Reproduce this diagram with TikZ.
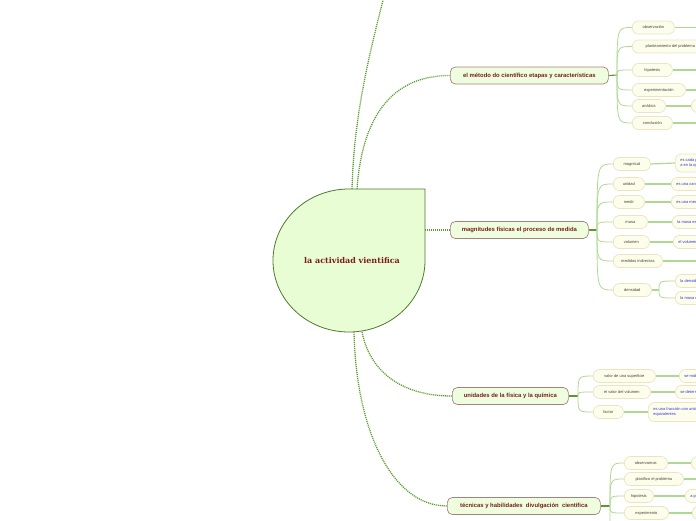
\documentclass[tikz,border=0pt]{standalone}
\usepackage{fontspec}
\setmainfont{Liberation Sans}
\newfontfamily\rootfont{DejaVu Serif}
\usetikzlibrary{calc}

\definecolor{rootfill}{HTML}{E8FDD4}
\definecolor{rootdraw}{HTML}{4E7A2E}
\definecolor{rootred}{HTML}{7A1F1F}
\definecolor{topicfill}{HTML}{EDFDDD}
\definecolor{topicdraw}{HTML}{A8807C}
\definecolor{dotgreen}{HTML}{5E9E2E}
\definecolor{stemgreen}{HTML}{5A9A2A}
\definecolor{twiggreen}{HTML}{AFD893}
\definecolor{subfill}{HTML}{FCFDEB}
\definecolor{subdraw}{HTML}{EAE4C2}
\definecolor{subtext}{HTML}{4A4436}
\definecolor{leafblue}{HTML}{3434D8}

\begin{document}
\begin{tikzpicture}[
    x=1pt, y=-1pt,
    topic/.style={draw=topicdraw, fill=topicfill, rounded corners=5pt, line width=0.7pt,
        minimum height=17pt, inner sep=0pt, anchor=west, text=rootred,
        font=\bfseries\fontsize{5.9}{6.5}\selectfont},
    sub/.style={draw=subdraw, fill=subfill, rounded corners=6pt, line width=0.7pt,
        minimum height=13pt, inner sep=0pt, anchor=west, text=subtext,
        font=\fontsize{4}{5}\selectfont},
    leaf/.style={sub, text=leafblue, align=left, inner xsep=5pt},
    link/.style={dotgreen, line width=1.3pt, dash pattern=on 1.1pt off 0.9pt},
    stem/.style={stemgreen, line width=1.1pt},
    twig/.style={twiggreen, line width=0.8pt},
    reach/.style={twiggreen, line width=1.2pt},
]
\useasboundingbox (0,0) rectangle (696,520);
\clip (0,0) rectangle (696,520);

% central teardrop
\filldraw[fill=rootfill, draw=rootdraw, line width=0.8pt]
    (349,189) -- (425,189) -- (425,260.5)
    arc[start angle=0, end angle=270, x radius=76, y radius=71.5] -- cycle;
\node[font=\rootfont\bfseries\fontsize{8}{9}\selectfont, text=rootred] (root) at (352,261) {la actividad vientifica};

\coordinate (r-up) at (352,189);
\coordinate (r-north) at (357,189);
\coordinate (r-east) at (425,230);
\coordinate (r-south) at (362,332);
\coordinate (r-sw) at (354,332);
\coordinate (up) at (384,-4);
\coordinate (edge) at (700,0);

% main topics
\node[topic, minimum width=158] (method) at (450,75.5) {el método do científico etapas y características};
\node[topic, minimum width=138] (magnitudes) at (450,230) {magnitudes físicas el proceso de medida};
\node[topic, minimum width=116] (units) at (452,396) {unidades de la física y la química};
\node[topic, minimum width=153] (skills) at (447,506) {técnicas y habilidades\ \ divulgación\ \ científica};

\draw[link] (r-up) .. controls (354,110) and (372,45) .. (up);
\draw[link] (r-north) .. controls +(5,-70) and +(-60,0) .. (method.west);
\draw[link] (r-east) -- (magnitudes.west);
\draw[link] (r-south) .. controls +(8,40) and +(-50,0) .. (units.west);
\draw[link] (r-sw) .. controls +(2,98) and +(-55,0) .. (skills.west);

% el metodo
\coordinate (j-method) at (617,75);
\draw[stem] (method.east) -- (j-method);
\foreach \id/\y/\w/\txt in {m1/27.5/42/observación, m2/46.5/76/planteamiento del problema,
    m3/70/40/hipotesis, m4/90/53/experimentación, m5/106/33/análisis, m6/123/40/conclusión}{
  \node[sub, minimum width=\w] (\id) at (632,\y) {\txt};
  \draw[twig] (j-method) .. controls (j-method |- \id.west) .. (\id.west);
}
\foreach \id in {m1,m3,m4,m6}
  \draw[reach] (\id.east) -- (\id.east -| edge);
\node[leaf] (m5x) at (691,106) {examinar los datos};
\draw[reach] (m5.east) -- (m5x.west);

% magnitudes
\coordinate (j-magn) at (597,230);
\draw[stem] (magnitudes.east) -- (j-magn);
\foreach \id/\y/\w/\txt in {g1/164/37/magnitud, g2/184/31/unidad, g3/202/31/medir, g4/222/34/masa,
    g5/242/36/volumen, g6/261/49/medidas indirectas, g7/290/38/densidad}{
  \node[sub, minimum width=\w] (\id) at (613,\y) {\txt};
  \draw[twig] (j-magn) .. controls (j-magn |- \id.west) .. (\id.west);
}
\node[leaf, minimum height=18pt] (g1x) at (675,163) {es cada propiedad\\ a en la que se mide};
\node[leaf] (g2x) at (671,184) {es una cantidad};
\node[leaf] (g3x) at (671,202) {es una medida};
\node[leaf] (g4x) at (672,222) {la masa es la cantidad};
\node[leaf] (g5x) at (673,242) {el volumen es el espacio};
\foreach \id in {g1,g2,g3,g4,g5}
  \draw[reach] (\id.east) -- (\id x.west);
\draw[reach] (g6.east) -- (g6.east -| edge);
\coordinate (j-dens) at (659,290);
\draw[reach] (g7.east) -- (j-dens);
\node[leaf] (g7a) at (675,281) {la densidad es};
\node[leaf] (g7b) at (675,298) {la masa entre};
\foreach \id in {g7a,g7b}
  \draw[twig] (j-dens) .. controls (j-dens |- \id.west) .. (\id.west);

% unidades
\coordinate (j-units) at (578,396);
\draw[stem] (units.east) -- (j-units);
\foreach \id/\y/\w/\txt in {u1/376/62/valor de una superficie, u2/392/57/el valor del volumen, u3/412/30/factor}{
  \node[sub, minimum width=\w] (\id) at (593,\y) {\txt};
  \draw[twig] (j-units) .. controls (j-units |- \id.west) .. (\id.west);
}
\node[leaf] (u1x) at (679,376) {se mide en metros};
\node[leaf] (u2x) at (675,392) {se determina};
\node[leaf, minimum height=19pt] (u3x) at (648,412) {es una fracción con unidades\\ equivalentes};
\foreach \id in {u1,u2,u3}
  \draw[reach] (\id.east) -- (\id x.west);

% tecnicas
\coordinate (j-skills) at (610,506);
\draw[stem] (skills.east) -- (j-skills);
\foreach \id/\y/\w/\txt in {s1/463/43/observamos, s2/479/59/planifico el problema,
    s3/496/29/hipotesis, s4/513/44/experimento}{
  \node[sub, minimum width=\w] (\id) at (624,\y) {\txt};
  \draw[twig] (j-skills) .. controls (j-skills |- \id.west) .. (\id.west);
}
\coordinate (s5) at (624,540);
\draw[twig] (j-skills) .. controls (j-skills |- s5) .. (s5);
\node[leaf] (s1x) at (691,463) {los hechos};
\node[leaf] (s3x) at (685,496) {a partir de};
\node[leaf] (s4x) at (692,513) {se comprueba};
\foreach \id in {s1,s3,s4}
  \draw[reach] (\id.east) -- (\id x.west);
\draw[reach] (s2.east) -- (s2.east -| edge);

\end{tikzpicture}
\end{document}
